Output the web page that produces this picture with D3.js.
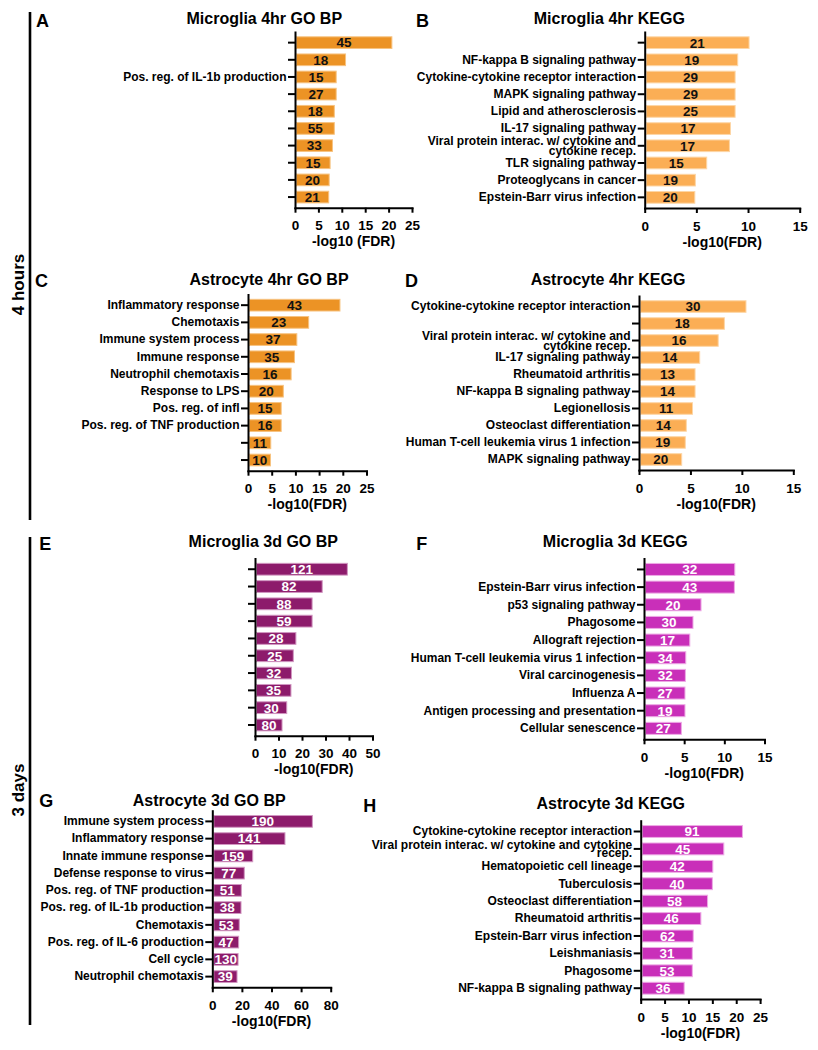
<!DOCTYPE html>
<html><head><meta charset="utf-8">
<script src="https://cdn.jsdelivr.net/npm/d3@7"></script>
<style>
body{margin:0;background:#fff;}
svg text{font-family:"Liberation Sans",Arial,Helvetica,sans-serif;font-weight:bold;}
</style>
</head><body>
<svg id="chart" width="818" height="1050"></svg>
<script>
// ---------------- DATA ----------------
const aTitle = "Microglia 4hr GO BP";
const aLabels = ["", "", "Pos. reg. of IL-1b production", "", "", "", "", "", "", ""];
const aValues = [20.7, 10.8, 8.8, 8.8, 8.4, 8.4, 8.0, 7.5, 7.3, 7.2];
const aCounts = [45, 18, 15, 27, 18, 55, 33, 15, 20, 21];
const aTicks = [0, 5, 10, 15, 20, 25];

const bTitle = "Microglia 4hr KEGG";
const bLabels = ["", "NF-kappa B signaling pathway", "Cytokine-cytokine receptor interaction",
  "MAPK signaling pathway", "Lipid and atherosclerosis", "IL-17 signaling pathway",
  "Viral protein interac. w/ cytokine and\ncytokine recep.", "TLR signaling pathway",
  "Proteoglycans in cancer", "Epstein-Barr virus infection"];
const bValues = [10.1, 9.0, 8.75, 8.75, 8.75, 8.3, 8.2, 6.0, 4.9, 4.85];
const bCounts = [21, 19, 29, 29, 25, 17, 17, 15, 19, 20];
const bTicks = [0, 5, 10, 15];

const cTitle = "Astrocyte 4hr GO BP";
const cLabels = ["Inflammatory response", "Chemotaxis", "Immune system process", "Immune response",
  "Neutrophil chemotaxis", "Response to LPS", "Pos. reg. of infl", "Pos. reg. of TNF production", "", ""];
const cValues = [19.4, 12.8, 10.3, 9.8, 9.1, 7.45, 7.0, 7.0, 4.8, 4.75];
const cCounts = [43, 23, 37, 35, 16, 20, 15, 16, 11, 10];
const cTicks = [0, 5, 10, 15, 20, 25];

const dTitle = "Astrocyte 4hr KEGG";
const dLabels = ["Cytokine-cytokine receptor interaction", "",
  "Viral protein interac. w/ cytokine and\ncytokine recep.", "IL-17 signaling pathway",
  "Rheumatoid arthritis", "NF-kappa B signaling pathway", "Legionellosis",
  "Osteoclast differentiation", "Human T-cell leukemia virus 1 infection", "MAPK signaling pathway"];
const dValues = [10.4, 8.3, 7.7, 5.9, 5.45, 5.45, 5.2, 4.6, 4.5, 4.15];
const dCounts = [30, 18, 16, 14, 13, 14, 11, 14, 19, 20];
const dTicks = [0, 5, 10, 15];

const eTitle = "Microglia 3d GO BP";
const eLabels = ["", "", "", "", "", "", "", "", "", ""];
const eValues = [39.3, 28.6, 24.3, 24.3, 17.4, 16.3, 15.5, 15.3, 13.5, 11.5];
const eCounts = [121, 82, 88, 59, 28, 25, 32, 35, 30, 80];
const eTicks = [0, 10, 20, 30, 40, 50];

const fTitle = "Microglia 3d KEGG";
const fLabels = ["", "Epstein-Barr virus infection", "p53 signaling pathway", "Phagosome",
  "Allograft rejection", "Human T-cell leukemia virus 1 infection", "Viral carcinogenesis",
  "Influenza A", "Antigen processing and presentation", "Cellular senescence"];
const fValues = [11.3, 11.25, 7.1, 6.1, 5.7, 5.2, 5.15, 5.1, 5.1, 4.65];
const fCounts = [32, 43, 20, 30, 17, 34, 32, 27, 19, 27];
const fTicks = [0, 5, 10, 15];

const gTitle = "Astrocyte 3d GO BP";
const gLabels = ["Immune system process", "Inflammatory response", "Innate immune response",
  "Defense response to virus", "Pos. reg. of TNF production", "Pos. reg. of IL-1b production",
  "Chemotaxis", "Pos. reg. of IL-6 production", "Cell cycle", "Neutrophil chemotaxis"];
const gValues = [67.6, 49.1, 27.3, 21.6, 19.6, 19.4, 18.2, 17.8, 17.4, 16.7];
const gCounts = [190, 141, 159, 77, 51, 38, 53, 47, 130, 39];
const gTicks = [0, 20, 40, 60, 80];

const hTitle = "Astrocyte 3d KEGG";
const hLabels = ["Cytokine-cytokine receptor interaction",
  "Viral protein interac. w/ cytokine and cytokine\nrecep.", "Hematopoietic cell lineage",
  "Tuberculosis", "Osteoclast differentiation", "Rheumatoid arthritis",
  "Epstein-Barr virus infection", "Leishmaniasis", "Phagosome", "NF-kappa B signaling pathway"];
const hValues = [21.3, 17.4, 15.1, 15.0, 14.0, 12.6, 11.0, 10.8, 10.8, 9.1];
const hCounts = [91, 45, 42, 40, 58, 46, 62, 31, 53, 36];
const hTicks = [0, 5, 10, 15, 20, 25];

const groupLabels = ["4 hours", "3 days"];

// ---------------- STYLE / LAYOUT ----------------
const themes = {
  orangeDark:  {fill: "#EC9325", stroke: "#F7C381", text: "#111"},
  orangeLight: {fill: "#FBAE55", stroke: "#FDD6A6", text: "#111"},
  purple:      {fill: "#8D1B6B", stroke: "#D197C1", text: "#fff"},
  magenta:     {fill: "#C92FB9", stroke: "#EDAAE5", text: "#fff"}
};

const panels = [
  {letter: "A", title: aTitle, labels: aLabels, values: aValues, counts: aCounts, ticks: aTicks,
   xTitle: "-log10 (FDR)", theme: "orangeDark", x0: 295, w: 117, top: 32, bottom: 207.7,
   titleX: 264.3, titleY: 23.5, letterX: 36, letterY: 26.7, gap: 10},
  {letter: "B", title: bTitle, labels: bLabels, values: bValues, counts: bCounts, ticks: bTicks,
   xTitle: "-log10(FDR)", theme: "orangeLight", x0: 644.7, w: 155, top: 32, bottom: 208,
   titleX: 609.3, titleY: 23.5, letterX: 416, letterY: 26.7, gap: 10},
  {letter: "C", title: cTitle, labels: cLabels, values: cValues, counts: cCounts, ticks: cTicks,
   xTitle: "-log10(FDR)", theme: "orangeDark", x0: 248, w: 118.5, top: 294.5, bottom: 470.7,
   titleX: 269, titleY: 285, letterX: 35, letterY: 286.7, gap: 10},
  {letter: "D", title: dTitle, labels: dLabels, values: dValues, counts: dCounts, ticks: dTicks,
   xTitle: "-log10(FDR)", theme: "orangeLight", x0: 639, w: 154.3, top: 296, bottom: 470,
   titleX: 608, titleY: 285, letterX: 405, letterY: 286.7, gap: 10},
  {letter: "E", title: eTitle, labels: eLabels, values: eValues, counts: eCounts, ticks: eTicks,
   xTitle: "-log10(FDR)", theme: "purple", x0: 255, w: 117.5, top: 558.5, bottom: 735.7,
   titleX: 263.3, titleY: 547.3, letterX: 39.3, letterY: 550, gap: 10},
  {letter: "F", title: fTitle, labels: fLabels, values: fValues, counts: fCounts, ticks: fTicks,
   xTitle: "-log10(FDR)", theme: "magenta", x0: 644, w: 120.5, top: 558.5, bottom: 739.3,
   titleX: 615.3, titleY: 547.3, letterX: 416.3, letterY: 550, gap: 10},
  {letter: "G", title: gTitle, labels: gLabels, values: gValues, counts: gCounts, ticks: gTicks,
   xTitle: "-log10(FDR)", theme: "purple", x0: 212.3, w: 118.4, top: 810.7, bottom: 987.3,
   titleX: 209.2, titleY: 806, letterX: 39.3, letterY: 807.3, gap: 10},
  {letter: "H", title: hTitle, labels: hLabels, values: hValues, counts: hCounts, ticks: hTicks,
   xTitle: "-log10(FDR)", theme: "magenta", x0: 640.7, w: 119.4, top: 820.7, bottom: 999,
   titleX: 610.8, titleY: 809.3, letterX: 363.3, letterY: 811.7, gap: 7.5}
];

const svg = d3.select("#chart");

// group side bars + labels
const sideGroups = [
  {label: groupLabels[0], y1: 12, y2: 520, cy: 284.5},
  {label: groupLabels[1], y1: 537, y2: 1025, cy: 790}
];
sideGroups.forEach(s => {
  svg.append("line").attr("x1", 30).attr("x2", 30).attr("y1", s.y1).attr("y2", s.y2)
    .attr("stroke", "#000").attr("stroke-width", 2.6);
  svg.append("text").attr("transform", `translate(24,${s.cy}) rotate(-90)`)
    .attr("text-anchor", "middle").attr("font-size", 17).attr("fill", "#000").text(s.label);
});

panels.forEach(p => {
  const th = themes[p.theme];
  const g = svg.append("g");
  const x = d3.scaleLinear().domain([0, p.ticks[p.ticks.length - 1]]).range([p.x0, p.x0 + p.w]);
  const y = d3.scaleBand().domain(d3.range(p.values.length)).range([p.top, p.bottom])
    .paddingInner(0.32).paddingOuter(0.28);

  // bars
  g.selectAll("rect.bar").data(p.values).join("rect").attr("class", "bar")
    .attr("x", x(0) + 1.5).attr("y", (d, i) => y(i))
    .attr("width", d => x(d) - x(0) - 1.5).attr("height", y.bandwidth())
    .attr("fill", th.fill).attr("stroke", th.stroke).attr("stroke-width", 1);

  // count labels
  g.selectAll("text.val").data(p.counts).join("text").attr("class", "val")
    .attr("x", (d, i) => (x(0) + x(p.values[i])) / 2 + 0.5)
    .attr("y", (d, i) => y(i) + y.bandwidth() / 2)
    .attr("dy", "0.36em").attr("text-anchor", "middle")
    .attr("font-size", 13.5).attr("fill", th.text).text(d => d);

  // x axis
  const xa = g.append("g").attr("transform", `translate(0,${p.bottom})`)
    .call(d3.axisBottom(x).tickValues(p.ticks).tickSize(5).tickSizeOuter(0).tickPadding(8));
  xa.attr("font-family", null).attr("font-size", null);
  xa.selectAll("text").attr("font-size", 13.5).attr("fill", "#000");
  xa.selectAll("line").attr("stroke", "#000").attr("stroke-width", 2);
  xa.select(".domain").attr("stroke", "#000").attr("stroke-width", 2).attr("stroke-linecap", "square");

  // y axis
  const ya = g.append("g").attr("transform", `translate(${p.x0},0)`)
    .call(d3.axisLeft(y).tickSize(7).tickSizeOuter(0).tickPadding(1.5).tickFormat(i => p.labels[i]));
  ya.attr("font-family", null).attr("font-size", null);
  ya.selectAll("line").attr("stroke", "#000").attr("stroke-width", 2);
  ya.select(".domain").attr("stroke", "#000").attr("stroke-width", 2).attr("stroke-linecap", "square");
  ya.selectAll("text").attr("font-size", 12).attr("fill", "#000").each(function (i) {
    const lines = p.labels[i].split("\n");
    if (lines.length > 1) {
      const t = d3.select(this);
      const xx = t.attr("x");
      t.text(null).attr("dy", null);
      lines.forEach((l, k) => {
        t.append("tspan").attr("x", xx)
          .attr("dy", k === 0 ? (-(lines.length - 1) * p.gap / 2 + 4) + "px" : p.gap + "px")
          .text(l);
      });
    }
  });

  // axis title
  g.append("text").attr("x", p.x0 + p.w / 2).attr("y", p.bottom + 38.5)
    .attr("text-anchor", "middle").attr("font-size", 14).attr("fill", "#000").text(p.xTitle);

  // panel title
  g.append("text").attr("x", p.titleX).attr("y", p.titleY).attr("text-anchor", "middle")
    .attr("font-size", 16).attr("fill", "#000").text(p.title);

  // panel letter
  g.append("text").attr("x", p.letterX).attr("y", p.letterY)
    .attr("font-size", 18).attr("fill", "#000").text(p.letter);
});
</script>
</body></html>
